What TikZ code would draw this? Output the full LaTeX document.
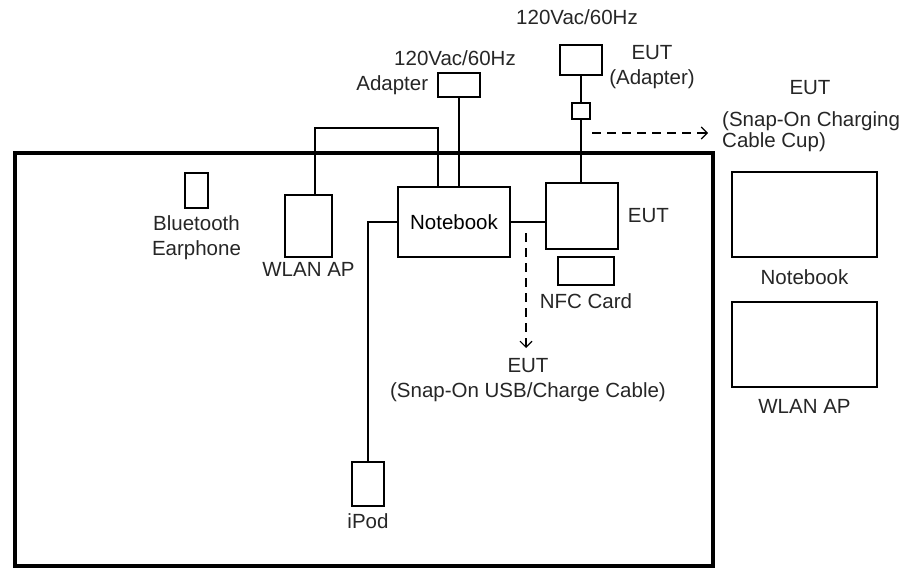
\documentclass[tikz,border=0pt]{standalone}
\usepackage{fontspec}
\setmainfont{Liberation Sans}
\usetikzlibrary{positioning,arrows.meta}

\begin{document}
\begin{tikzpicture}[x=1pt, y=-1pt, font=\fontsize{20.5}{25}\selectfont, >={Straight Barb[length=6pt,width=12pt]},
  box/.style={draw, line width=1.3pt, inner sep=0pt},
  lbl/.style={inner sep=0pt, align=center, text=black!85},
  wire/.style={line width=1.3pt},
  cue/.style={->, line width=1.1pt, dash pattern=on 9pt off 6pt}]
\useasboundingbox (0,0) rectangle (910,570);
% test table
\draw[line width=3.6pt] (15,153) rectangle (713,566);
% equipment on the table
\node[box, minimum width=42pt, minimum height=24pt] (adp) at (459,85) {};
\node[box, minimum width=42pt, minimum height=30pt] (eutadp) at (581,60) {};
\node[box, minimum width=18pt, minimum height=16pt] (plug) at (581,111) {};
\node[box, minimum width=23pt, minimum height=35pt] (bt) at (196.5,190.5) {};
\node[box, minimum width=47pt, minimum height=62pt] (wlan) at (308.5,226) {};
\node[box, minimum width=112pt, minimum height=70pt] (nb) at (454,222) {Notebook};
\node[box, minimum width=72pt, minimum height=66pt] (eut) at (582,216) {};
\node[box, minimum width=56pt, minimum height=28pt] (nfc) at (586,271) {};
\node[box, minimum width=32pt, minimum height=44pt] (ipod) at (368,484) {};
% remote side
\node[box, minimum width=145pt, minimum height=85pt] (rnb) at (804.5,214.5) {};
\node[box, minimum width=145pt, minimum height=85pt] (rwlan) at (804.5,344.5) {};
% labels
\node[lbl] (acl) at (455,58) {120Vac/60Hz};
\node[lbl, left=9pt of adp] {Adapter};
\node[lbl] (acr) at (577,17) {120Vac/60Hz};
\node[lbl] at (652,67) {EUT\\(Adapter)};
\node[lbl, below=7pt of bt] {Bluetooth\\Earphone};
\node[lbl, below=5pt of wlan] {WLAN AP};
\node[lbl, right=9pt of eut] {EUT};
\node[lbl, below=8pt of nfc] {NFC Card};
\node[lbl, below=7pt of ipod] {iPod};
\node[lbl, below=12pt of rnb] {Notebook};
\node[lbl, below=12pt of rwlan] {WLAN AP};
\node[lbl] (usb) at (528,380) {EUT\\(Snap-On USB/Charge Cable)};
\node[lbl] (cuptop) at (810,88) {EUT};
\node[lbl, align=left, font=\fontsize{20.5}{21}\selectfont, anchor=north west] (cup) at (722,111) {(Snap-On Charging\\Cable Cup)};
% cables
\coordinate (hub) at (438,128);
\draw[wire] (adp) -- (adp |- nb.north);
\draw[wire] (eutadp) -- (plug);
\draw[wire] (plug) -- (plug |- eut.north);
\draw[wire] ([xshift=6.5pt]wlan.north) |- (hub) -- (hub |- nb.north);
\draw[wire] (nb.east) -- (nb.east -| eut.west);
\draw[wire] (nb.west) -| (ipod.north);
% snap-on accessories
\coordinate (usbtop) at (526,233);
\coordinate (cupfrom) at (592,133);
\draw[cue] (usbtop) -- (usbtop |- 0,348);
\draw[cue] (cupfrom) -- (708,133);
\end{tikzpicture}
\end{document}
